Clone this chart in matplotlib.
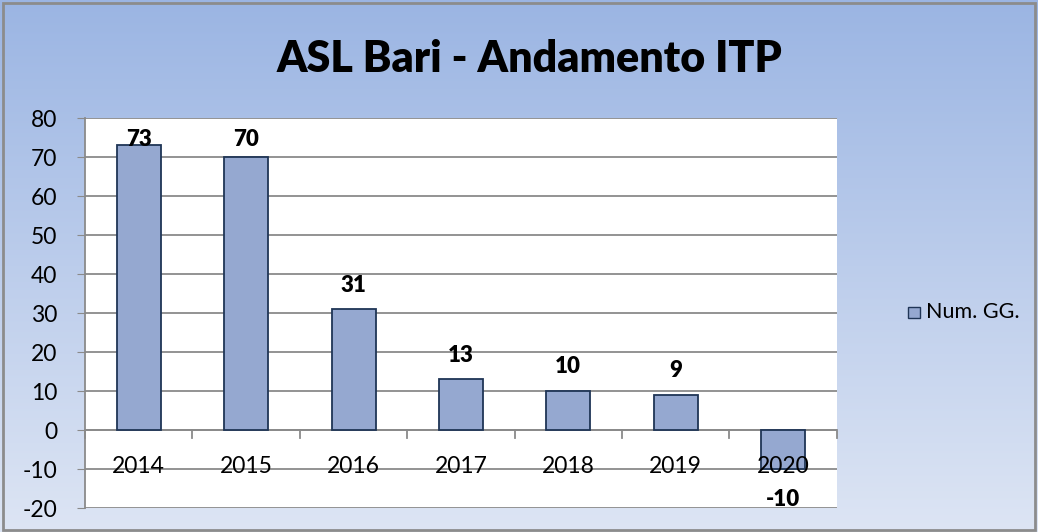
import numpy as np
import matplotlib.pyplot as plt
from matplotlib.patches import Rectangle

plt.rcParams["axes.unicode_minus"] = False

# data
years = ["2014", "2015", "2016", "2017", "2018", "2019", "2020"]
num_gg = [73, 70, 31, 13, 10, 9, -10]
y_ticks = [-20, -10, 0, 10, 20, 30, 40, 50, 60, 70, 80]

font = "Lato"
grid_c = "#8a8a8a"

fig = plt.figure(figsize=(10.38, 5.32), dpi=100)

# gradient background
bg = fig.add_axes([0, 0, 1, 1], zorder=0)
grad = np.linspace(0, 1, 256).reshape(-1, 1)
top = np.array([0x9b, 0xb5, 0xe3]) / 255
bot = np.array([0xdd, 0xe5, 0xf4]) / 255
img = top + (bot - top) * grad[..., None]
bg.imshow(img, aspect="auto", extent=[0, 1, 0, 1])
bg.add_patch(Rectangle((0.003, 0.004), 0.994, 0.99, fill=False, ec="#8c8c8c", lw=2,
                       transform=bg.transAxes))
bg.set_xlim(0, 1)
bg.set_ylim(0, 1)
bg.axis("off")

ax = fig.add_axes([0.082, 0.045, 0.724, 0.733], zorder=1)
ax.set_facecolor("white")
x = np.arange(len(years))
ax.bar(x, num_gg, width=0.41, color="#95a8d0", edgecolor="#1f3556", linewidth=1.3, zorder=3)

ax.set_ylim(-20, 80)
ax.set_xlim(-0.5, len(years) - 0.5)
ax.set_yticks(y_ticks)
ax.grid(axis="y", color=grid_c, linewidth=1.3, zorder=1)
for s in ["top", "right", "bottom"]:
    ax.spines[s].set_visible(False)
ax.spines["left"].set_color(grid_c)
ax.spines["left"].set_linewidth(1.3)
ax.tick_params(axis="y", length=6, color=grid_c, labelsize=16.5, pad=14)
for t in ax.get_yticklabels():
    t.set_fontfamily(font)
ax.set_xticks([])

# category axis at zero with tick marks
ax.axhline(0, color=grid_c, linewidth=1.3, zorder=2)
for b in np.arange(-0.5, len(years)):
    ax.plot([b, b], [0, -2], color=grid_c, linewidth=1.3, zorder=2, clip_on=False)
for xi, yr in zip(x, years):
    ax.text(xi, -9.3, yr, ha="center", va="center", fontsize=16.5, family=font, zorder=5)

# data labels
for xi, v in zip(x, num_gg):
    if v >= 0:
        yl = min(v + 6.2, 74.5)
    else:
        yl = v - 7.8
    ax.text(xi, yl, str(v), ha="center", va="center", fontsize=16, fontweight="heavy",
            family=font, zorder=5)

fig.text(0.51, 0.89, "ASL Bari - Andamento ITP", ha="center", va="center",
         fontsize=31, fontweight="heavy", family=font)

# legend
lx, ly = 0.875, 0.413
fig.add_artist(Rectangle((lx, ly - 0.011), 0.011, 0.0215, transform=fig.transFigure,
                         facecolor="#95a8d0", edgecolor="#1f3556", linewidth=1))
fig.text(lx + 0.017, ly, "Num. GG.", ha="left", va="center", fontsize=15.5, family=font)

fig.savefig("out.png", dpi=100)
